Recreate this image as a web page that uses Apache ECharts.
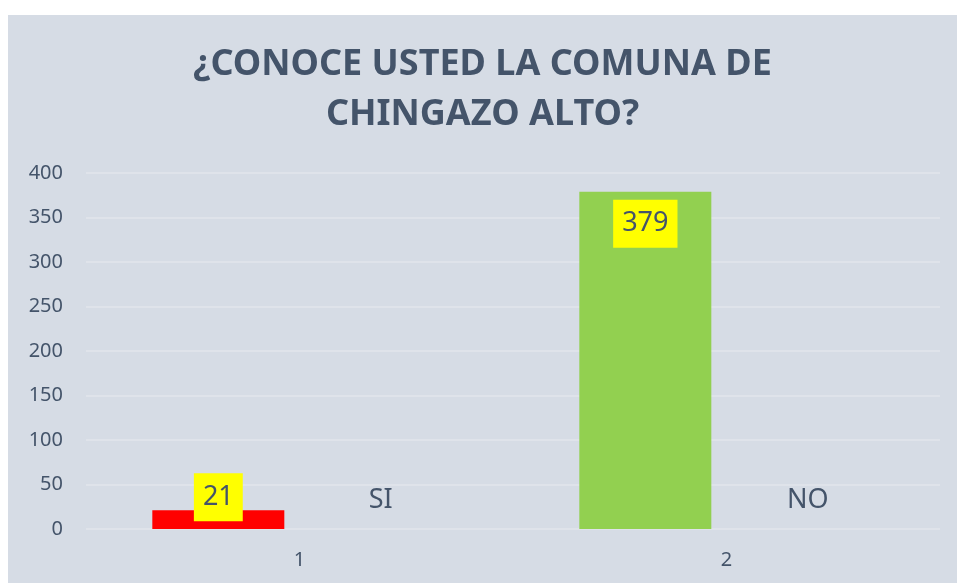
<!DOCTYPE html>
<html>
<head>
<meta charset="utf-8">
<script src="https://cdn.jsdelivr.net/npm/echarts@6/dist/echarts.min.js"></script>
<style>
  html, body { margin: 0; padding: 0; background: #ffffff; }
  #chart { position: absolute; left: 8px; top: 15px; width: 949px; height: 568px; }
</style>
</head>
<body>
<div id="chart"></div>
<script>
var categories = ['1', '2'];
var values = [21, 379];
var answers = ['SI', 'NO'];
var barColors = ['#ff0000', '#92d050'];
var yTicks = [0, 50, 100, 150, 200, 250, 300, 350, 400];

var textColor = '#44546a';
var font = 'Noto Sans';

var myChart = echarts.init(document.getElementById('chart'));

var valueData = values.map(function(v, i){
    var d = {value: v, itemStyle: {color: barColors[i]}};
    // small bar: excel pushes the label up out of the bar
    if (v < 50) {
        d.label = {position: 'top', distance: -11};
    }
    return d;
});

var option = {
    backgroundColor: '#d6dce5',
    animation: false,
    title: {
        text: '¿CONOCE USTED LA COMUNA DE\nCHINGAZO ALTO?',
        left: 'center',
        top: 25,
        padding: [0, 0, 0, 12],
        textStyle: {
            color: textColor,
            fontFamily: font,
            fontWeight: 'bold',
            fontSize: 36,
            lineHeight: 50
        }
    },
    grid: {left: 78, right: 17, top: 158, bottom: 54},
    xAxis: {
        type: 'category',
        data: categories,
        axisLine: {show: false},
        axisTick: {show: false},
        axisLabel: {color: textColor, fontFamily: font, fontSize: 20, margin: 21}
    },
    yAxis: {
        type: 'value',
        min: yTicks[0],
        max: yTicks[yTicks.length - 1],
        interval: yTicks[1] - yTicks[0],
        axisLine: {show: false},
        axisTick: {show: false},
        axisLabel: {color: textColor, fontFamily: font, fontSize: 20, margin: 23},
        splitLine: {lineStyle: {color: '#dfe3ea', width: 2}}
    },
    series: [
        {
            type: 'bar',
            data: valueData,
            barWidth: 132,
            barGap: '23%',
            label: {
                show: true,
                position: 'insideTop',
                distance: 8,
                color: textColor,
                fontFamily: font,
                fontSize: 27,
                lineHeight: 28,
                backgroundColor: '#ffff00',
                padding: [10, 9]
            }
        },
        {
            type: 'bar',
            data: answers.map(function(){ return 0; }),
            barWidth: 132,
            itemStyle: {color: 'rgba(0,0,0,0)'},
            label: {
                show: true,
                position: 'top',
                distance: 15,
                color: textColor,
                fontFamily: font,
                fontSize: 27,
                formatter: function(p){ return answers[p.dataIndex]; }
            }
        }
    ]
};

myChart.setOption(option);
</script>
</body>
</html>
